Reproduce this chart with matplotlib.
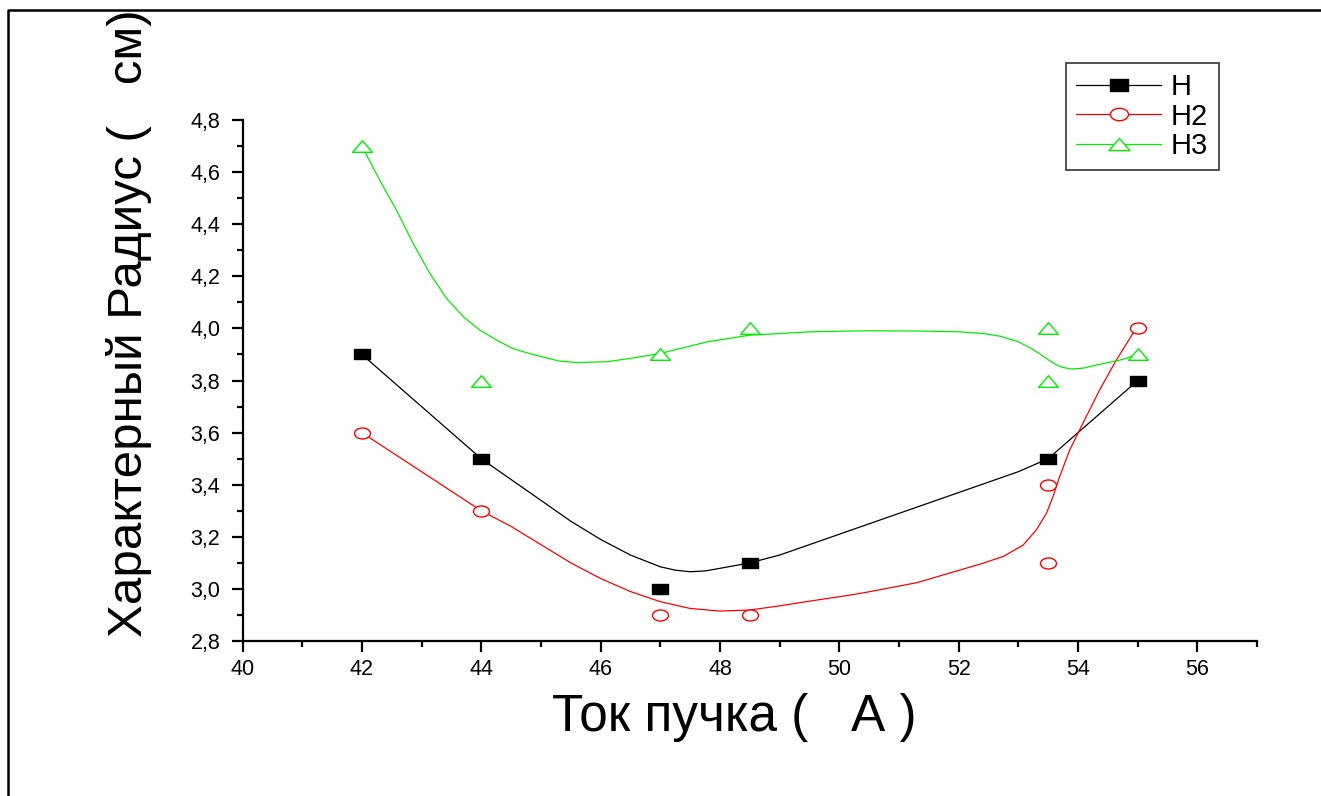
import matplotlib
matplotlib.use('Agg')
import matplotlib.pyplot as plt
from matplotlib.path import Path
from matplotlib.lines import Line2D
from matplotlib.ticker import MultipleLocator, FuncFormatter

plt.rcParams['font.family'] = ['Liberation Sans', 'DejaVu Sans']

# measured points
h_x = [42, 44, 47, 48.5, 53.5, 55]
h_y = [3.9, 3.5, 3.0, 3.1, 3.5, 3.8]
h2_x = [42, 44, 47, 48.5, 53.5, 53.5, 55]
h2_y = [3.6, 3.3, 2.9, 2.9, 3.4, 3.1, 4.0]
h3_x = [42, 44, 47, 48.5, 53.5, 53.5, 55]
h3_y = [4.7, 3.8, 3.9, 4.0, 4.0, 3.8, 3.9]

# smoothed curves
h_curve_x = [42, 43, 44, 44.5, 45, 45.5, 46, 46.5, 47, 47.25, 47.5, 47.75, 48, 48.5, 49, 50, 51, 52,
             53, 53.5, 55]
h_curve_y = [3.9, 3.7, 3.5, 3.42, 3.34, 3.26, 3.19, 3.13, 3.085, 3.072, 3.066, 3.069, 3.079, 3.1,
             3.13, 3.21, 3.29, 3.37, 3.45, 3.5, 3.8]
h2_curve_x = [42, 43, 44, 44.5, 45, 45.5, 46, 46.5, 47, 47.5, 48, 48.5, 49, 49.5, 50.2, 50.5, 51.3,
              52.4, 52.75, 53.08, 53.3, 53.47, 53.58, 53.69, 53.86, 54.08, 54.36, 54.64, 54.92, 55]
h2_curve_y = [3.6, 3.45, 3.3, 3.24, 3.17, 3.1, 3.04, 2.99, 2.951, 2.925, 2.915, 2.919, 2.935, 2.953,
              2.977, 2.989, 3.024, 3.098, 3.125, 3.168, 3.226, 3.29, 3.354, 3.43, 3.533, 3.635,
              3.763, 3.878, 3.981, 4.0]
h3_curve_x = [42, 42.05, 42.3, 42.58, 42.86, 43.14, 43.42, 43.7, 43.98, 44.26, 44.53, 44.8, 45.3,
              45.6, 46.1, 46.5, 47.0, 47.8, 48.5, 49.5, 50.2, 50.5, 51.3, 52.0, 52.4, 52.7, 53.0,
              53.2, 53.35, 53.5, 53.65, 53.75, 53.9, 54.1, 54.3, 54.75, 55]
h3_curve_y = [4.7, 4.678, 4.569, 4.454, 4.326, 4.211, 4.115, 4.045, 3.993, 3.955, 3.923, 3.904,
              3.875, 3.869, 3.872, 3.885, 3.904, 3.949, 3.974, 3.987, 3.99, 3.991, 3.99, 3.987,
              3.981, 3.97, 3.949, 3.925, 3.904, 3.88, 3.859, 3.85, 3.844, 3.848, 3.859, 3.881, 3.9]

labels = ['H', 'H2', 'H3']
colors = ['black', '#ff0000', '#00ee00']

# markers in the reference are stretched horizontally
square = Path([(-0.78, -0.5), (0.78, -0.5), (0.78, 0.5), (-0.78, 0.5), (0, 0)], closed=True)
circ = Path.unit_circle()
ellipse = Path(circ.vertices * [1.45, 1.0], circ.codes)
triangle = Path([(-1.7, -1.0), (1.7, -1.0), (0, 1.0), (0, 0)], closed=True)

fig = plt.figure(figsize=(13.21, 7.96), dpi=100)
ax = fig.add_axes([0.1836, 0.1947, 0.9516 - 0.1836, 0.8492 - 0.1947])

ax.plot(h_curve_x, h_curve_y, color=colors[0], lw=0.9, zorder=2)
ax.plot(h2_curve_x, h2_curve_y, color=colors[1], lw=0.9, zorder=2)
ax.plot(h3_curve_x, h3_curve_y, color=colors[2], lw=0.9, zorder=2)

ax.plot(h_x, h_y, ls='none', marker=square, ms=11.3, mfc='black', mec='black', zorder=3)
ax.plot(h2_x, h2_y, ls='none', marker=ellipse, ms=11.5, mfc='white', mec=colors[1], mew=1.0, zorder=3)
ax.plot(h3_x, h3_y, ls='none', marker=triangle, ms=14.2, mfc='white', mec=colors[2], mew=1.0, zorder=3)

ax.set_xlim(40, 57)
ax.set_ylim(2.8, 4.8)
ax.xaxis.set_major_locator(MultipleLocator(2))
ax.xaxis.set_minor_locator(MultipleLocator(1))
ax.yaxis.set_major_locator(MultipleLocator(0.2))
ax.yaxis.set_minor_locator(MultipleLocator(0.1))
ax.xaxis.set_major_formatter(FuncFormatter(lambda v, p: f'{v:.0f}' if v <= 56 else ''))
ax.yaxis.set_major_formatter(FuncFormatter(lambda v, p: f'{v:.1f}'.replace('.', ',')))

for spine in ['top', 'right']:
    ax.spines[spine].set_visible(False)
for spine in ['left', 'bottom']:
    ax.spines[spine].set_linewidth(1.6)

ax.tick_params(which='major', direction='out', length=8, width=1.6, labelsize=15.5)
ax.tick_params(which='minor', direction='out', length=4.5, width=1.6)
ax.tick_params(axis='y', which='major', pad=8)
ax.tick_params(axis='x', which='major', pad=5)

fig.text(0.556, 0.098, 'Ток пучка (   А )', fontsize=37, ha='center', va='center')
fig.text(0.098, 0.594, 'Характерный Радиус (   см)', fontsize=35.5, rotation=90,
         ha='center', va='center')

handles = [
    Line2D([], [], color=colors[0], lw=0.9, marker=square, ms=13, mfc='black', mec='black'),
    Line2D([], [], color=colors[1], lw=0.9, marker=ellipse, ms=13, mfc='white', mec=colors[1]),
    Line2D([], [], color=colors[2], lw=0.9, marker=triangle, ms=15, mfc='white', mec=colors[2]),
]
leg = ax.legend(handles, labels, loc='upper left', bbox_to_anchor=(0.807, 0.921),
                bbox_transform=fig.transFigure, borderaxespad=0, fontsize=21,
                handlelength=2.9, handletextpad=0.35, labelspacing=0.05, borderpad=0.35,
                fancybox=False, numpoints=1)
leg.get_frame().set_edgecolor('black')
leg.get_frame().set_linewidth(1.2)

# outer frame (only left and top edges are visible in the reference)
fig.add_artist(Line2D([0.006, 0.006, 1.0], [0.0, 0.9874, 0.9874], color='black', lw=1.8,
                      transform=fig.transFigure))

fig.savefig('out.png', dpi=100, facecolor='white')
